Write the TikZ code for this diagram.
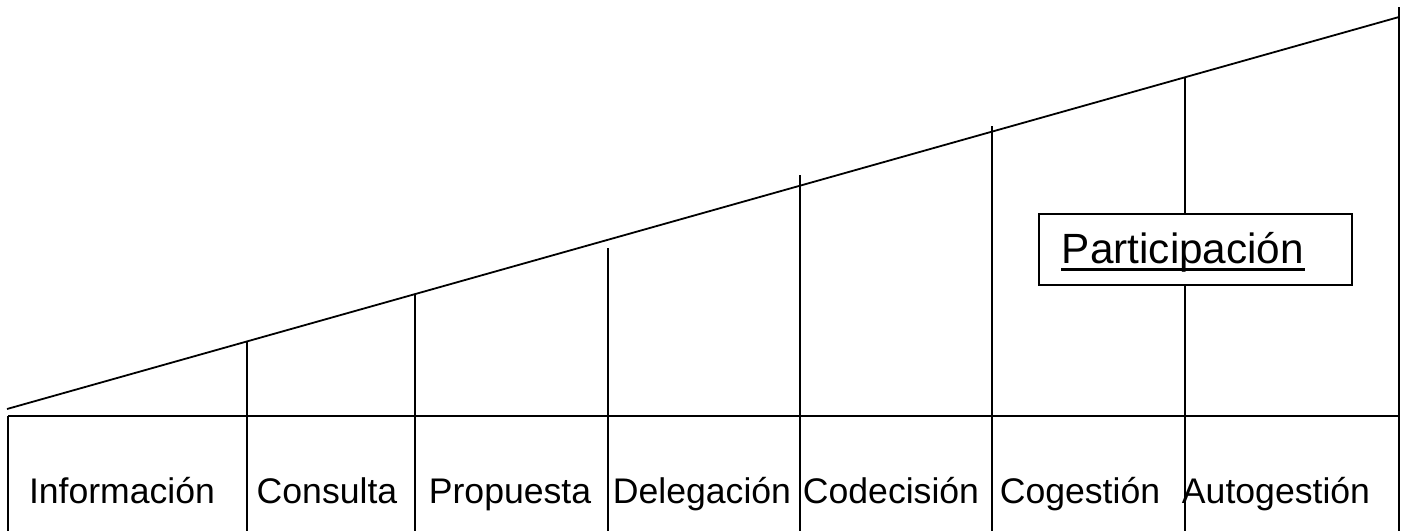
\documentclass[tikz,border=0pt]{standalone}
\usepackage{fontspec}
\setmainfont{Liberation Sans}
\usetikzlibrary{positioning}

\begin{document}
\begin{tikzpicture}[x=1pt, y=-1pt, line width=1.8pt,
    level/.style={anchor=base, inner sep=0pt, font=\fontsize{35.6}{40}\selectfont}]
      \useasboundingbox (0,0) rectangle (1403,531);
      \coordinate (sl) at (7,409);
      \coordinate (sr) at (1399,17);
      \coordinate (hl) at (8,416);
      \coordinate (hr) at (1399,416);

      \draw (sl) -- (sr);
      \draw (hl) -- (hr);
      \draw (hl) -- (8,531);
      \foreach \n/\x/\t in {a/247/342, b/415/295, c/608/248, d/800/175, e/992/126, f/1185/77, g/1399/7} {
        \coordinate (t\n) at (\x,\t);
        \coordinate (b\n) at (\x,531);
        \draw (t\n) -- (b\n);
      }

      \node (info) [level] at (122,503) {Información};
      \node (cons) [level] at (327,503) {Consulta};
      \node (prop) [level] at (510,503) {Propuesta};
      \node (dele) [level] at (702,503) {Delegación};
      \node (code) [level] at (891,503) {Codecisión};
      \node (coge) [level] at (1080,503) {Cogestión};
      \node (auto) [level] at (1276,503) {Autogestión};

      \node (partbox) [draw, fill=white, line width=1.3pt, minimum width=313pt, minimum height=71pt] at (1195.5,249.5) {};
      \node (part) [anchor=base west, inner sep=0pt, font=\fontsize{42.3}{48}\selectfont] at (1061,263) {Participación};
      \draw[line width=3pt] ([yshift=-6pt]part.base west) -- ([yshift=-6pt]part.base east);
    \end{tikzpicture}
\end{document}
